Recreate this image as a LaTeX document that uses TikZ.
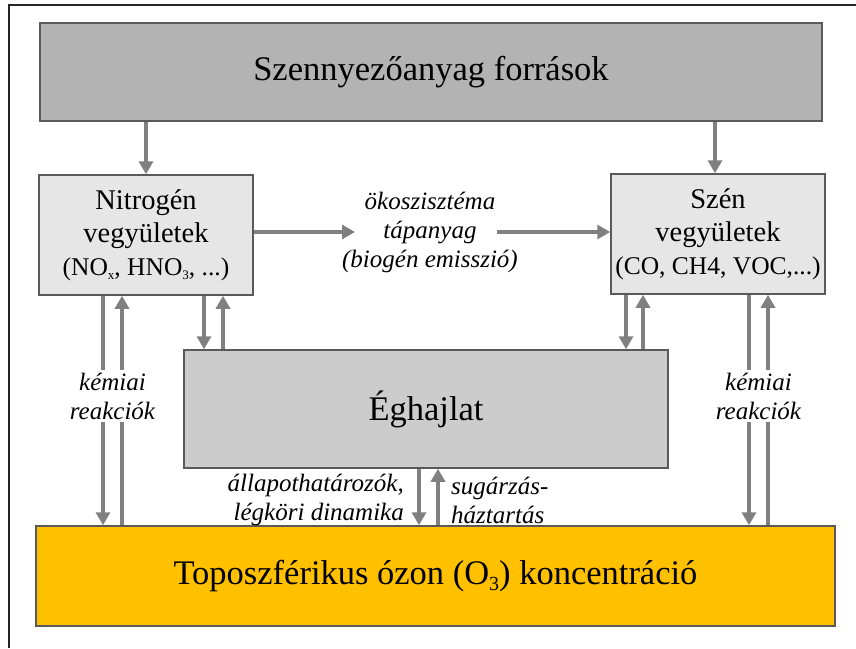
\documentclass[tikz,border=0pt]{standalone}
\usepackage{fontspec}
\setmainfont{Liberation Serif}
\usepackage{tikz}
\usetikzlibrary{positioning,arrows.meta,calc}
\definecolor{srcgray}{HTML}{B3B3B3}
\definecolor{cmpgray}{HTML}{E6E6E6}
\definecolor{climgray}{HTML}{CCCCCC}
\definecolor{ozoneorange}{HTML}{FFC000}
\definecolor{flowgray}{HTML}{808080}
\definecolor{blkline}{HTML}{595959}
\definecolor{framecol}{HTML}{262626}
% small lowered index, as in NOx or O3
\newcommand{\lowsub}[2][13]{\raisebox{-0.35ex}{\fontsize{#1}{#1}\selectfont #2}}
\newcommand{\cmpsize}{\fontsize{25.5}{29}\selectfont}
\tikzset{
  blk/.style={draw=blkline,line width=1.5pt,inner sep=0pt,align=center},
  srcblk/.style={blk,fill=srcgray,minimum width=782pt,minimum height=98pt,
            font=\fontsize{34.5}{40}\selectfont},
  cmpblk/.style={blk,fill=cmpgray,minimum width=214pt,minimum height=120pt,
            font=\fontsize{28.5}{33}\selectfont},
  climblk/.style={blk,fill=climgray,minimum width=484pt,minimum height=118pt,
            font=\fontsize{34.5}{40}\selectfont},
  ozoneblk/.style={blk,fill=ozoneorange,minimum width=799pt,minimum height=100pt,
            font=\fontsize{34.5}{40}\selectfont},
  flow/.style={-{Triangle[width=14pt,length=13pt]},line width=4pt,draw=flowgray},
  flowlbl/.style={font=\itshape\fontsize{25}{29}\selectfont,align=center,inner sep=0pt},
}

\begin{document}
\begin{tikzpicture}[x=1pt,y=-1pt]
  \useasboundingbox (0,0) rectangle (856,648);
  % frame
  \draw[framecol,line width=1.5pt] (9,648) -- (9,5) -- (856,5);
  % Blocks
  \node[srcblk]   (src)   at (431,72)    {Szennyezőanyag források};
  \node[cmpblk]   (nitro) at (146,235)   {Nitrogén\\vegyületek\\{\cmpsize(NO\lowsub{x}, HNO\lowsub{3}, ...)}};
  \node[cmpblk]   (carb)  at (718,234)   {Szén\\vegyületek\\{\cmpsize(CO, CH4, VOC,...)}};
  \node[climblk]  (clim)  at (426,409)   {Éghajlat};
  \node[ozoneblk] (ozone) at (435.5,576) {Toposzférikus ózon (O\lowsub[20]{3}) koncentráció};
  % Sources feed both compound groups
  \draw[flow] (src.south -| nitro) -- (nitro.north);
  \draw[flow] ([xshift=-3pt]carb.north |- src.south) -- ([xshift=-3pt]carb.north);
  % Nitrogen -> carbon (ecosystem)
  \node[flowlbl] (eco) at (430,232) {ökoszisztéma\\tápanyag\\(biogén emisszió)};
  \draw[flow] (nitro.east |- eco) -- ([xshift=-75pt]eco.center);
  \draw[flow] ([xshift=67pt]eco.center) -- (carb.west |- eco);
  % Chemistry, left side
  \draw[flow] ([xshift=-43pt]nitro.south) -- ([xshift=-43pt]nitro.south |- ozone.north);
  \draw[flow] ([xshift=-24pt]nitro.south |- ozone.north) -- ([xshift=-24pt]nitro.south);
  \node[flowlbl,fill=white,inner sep=3pt] (chemL) at (112.5,396) {kémiai\\reakciók};
  % Chemistry, right side
  \draw[flow] ([xshift=31pt]carb.south) -- ([xshift=31pt]carb.south |- ozone.north);
  \draw[flow] ([xshift=50pt]carb.south |- ozone.north) -- ([xshift=50pt]carb.south);
  \node[flowlbl,fill=white,inner sep=3pt] (chemR) at (758.5,396) {kémiai\\reakciók};
  % Compounds <-> climate
  \draw[flow] ([xshift=58pt]nitro.south) -- ([xshift=58pt]nitro.south |- clim.north);
  \draw[flow] ([xshift=77pt]nitro.south |- clim.north) -- ([xshift=77pt]nitro.south);
  \draw[flow] ([xshift=-92pt]carb.south) -- ([xshift=-92pt]carb.south |- clim.north);
  \draw[flow] ([xshift=-75pt]carb.south |- clim.north) -- ([xshift=-75pt]carb.south);
  % Climate <-> ozone
  \draw[flow] ([xshift=-7pt]clim.south) -- ([xshift=-7pt]clim.south |- ozone.north);
  \draw[flow] ([xshift=12pt]clim.south |- ozone.north) -- ([xshift=12pt]clim.south);
  \node[flowlbl,anchor=east,align=right] (state) at (404,500) {állapothatározók,\\légköri dinamika};
  \node[flowlbl,anchor=west,align=left]  (rad)   at (451,500) {sugárzás-\\háztartás};
\end{tikzpicture}
\end{document}
